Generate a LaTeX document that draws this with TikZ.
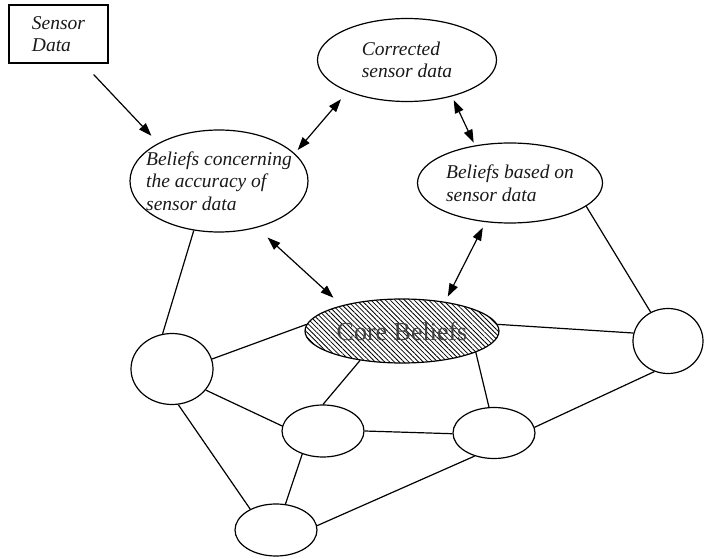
\documentclass[tikz,border=0pt]{standalone}
\usepackage{fontspec}
\setmainfont{Liberation Serif}
\usetikzlibrary{arrows.meta,patterns.meta,shapes.geometric}

\begin{document}
\begin{tikzpicture}[
    x=1pt, y=-1pt,
    every node/.style={font=\fontsize{19.5}{22.5}\selectfont\itshape, text=black!90},
    belief/.style={ellipse, draw, line width=1.2pt, align=left, inner sep=-12pt},
    blank/.style={ellipse, draw, line width=1.2pt, inner sep=0pt},
    source/.style={rectangle, draw, line width=1.2pt, align=left, minimum width=99pt, minimum height=58pt},
    core/.style={ellipse, draw, line width=1.2pt, inner sep=0pt, minimum width=194pt, minimum height=64pt,
        pattern={Lines[angle=-45, distance=3.4pt, line width=0.8pt]}, font=\fontsize{26}{28}\selectfont, text=black!75},
    arrow/.style={-{Triangle[length=13pt, width=9pt]}, line width=1.2pt},
    twoway/.style={{Triangle[length=13pt, width=9pt]}-{Triangle[length=13pt, width=9pt]}, line width=1.2pt},
    link/.style={line width=1.2pt},
]
\useasboundingbox (0,0) rectangle (705,559);

% Sensor input and the belief ellipses
\node[source] (sensor) at (58.5,34) {Sensor\\Data};
\node[belief, minimum width=179pt, minimum height=83pt] (corr) at (407,60) {Corrected\\sensor data};
\node[belief, minimum width=178pt, minimum height=102pt] (conc) at (219,181) {Beliefs concerning\\the accuracy of\\sensor data};
\node[belief, minimum width=185pt, minimum height=80pt] (based) at (510,183) {Beliefs based on\\sensor data};

% Core and the web around it
\node[core] (core) at (402,331) {Core Beliefs};
\node[blank, minimum width=82pt, minimum height=71pt] (nl) at (172,369) {};
\node[blank, minimum width=70pt, minimum height=65pt] (nr) at (668,341) {};
\node[blank, minimum width=82pt, minimum height=52pt] (nml) at (323,431) {};
\node[blank, minimum width=82pt, minimum height=51pt] (nmr) at (494,433) {};
\node[blank, minimum width=82pt, minimum height=52pt] (nb) at (276,530) {};

% Arrows
\draw[arrow, shorten <=15pt, shorten >=10pt] (sensor.-50) -- (conc.148);
\draw[twoway, shorten <=10pt, shorten >=4.5pt] (corr.208) -- (conc.20);
\draw[twoway, shorten <=4pt, shorten >=3pt] (corr.321) -- (based.133);
\draw[twoway, shorten <=14.5pt, shorten >=11.5pt] (conc.309) -- (core.157);
\draw[twoway, shorten <=6pt, shorten >=6pt] (based.238) -- (core.34);

% Plain links
\draw[link] (conc.243) -- (nl.105);
\draw[link] (based.343) -- (nr.121);
\draw[link] (core.176) -- (nl.14);
\draw[link] (core.4) -- (nr.167);
\draw[link] (core.215) -- (nml.90);
\draw[link] (core.344) -- (nmr.101);
\draw[link] (nl.328) -- (nml.173);
\draw[link] (nl.280) -- (nb.141);
\draw[link] (nml.0) -- (nmr.181);
\draw[link] (nml.228) -- (nb.70);
\draw[link] (nmr.8) -- (nr.246);
\draw[link] (nmr.230) -- (nb.6);

\end{tikzpicture}
\end{document}
